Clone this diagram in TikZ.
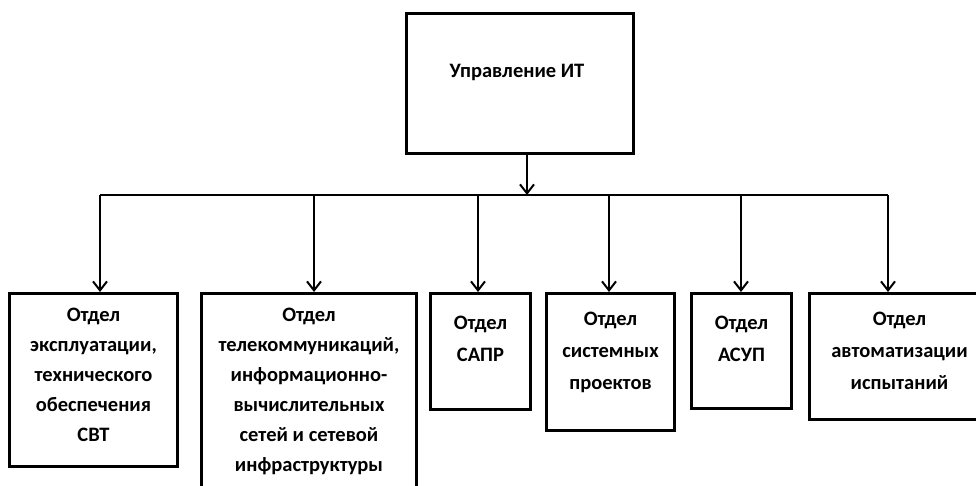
\documentclass[tikz,border=0pt]{standalone}
\usepackage{fontspec}
\setmainfont{Carlito}
\usetikzlibrary{arrows.meta}
\begin{document}
\begin{tikzpicture}[x=1pt,y=-1pt,
  box/.style={draw, line width=3pt, minimum width=#1, anchor=north west, inner sep=0pt},
  txt/.style={anchor=north, align=center, font=\fontsize{20.5}{32}\selectfont\bfseries, inner sep=0pt},
  tight/.style={font=\fontsize{20.5}{30}\selectfont\bfseries},
  conn/.style={line width=2pt},
  arr/.style={line width=2pt, -{Straight Barb[length=9pt,width=14pt,line width=2pt]}}]
\useasboundingbox (0,0) rectangle (976,486);
% boxes
\node[box=227pt, minimum height=140pt] (top) at (405,12) {};
\node[box=168pt, minimum height=173pt] (b1) at (8,292) {};
\node[box=215pt, minimum height=220pt] (b2) at (200,292) {};
\node[box=100pt, minimum height=116pt] (b3) at (429,292) {};
\node[box=128pt, minimum height=137pt] (b4) at (545,292) {};
\node[box=100pt, minimum height=115pt] (b5) at (690,292) {};
\node[box=180pt, minimum height=126pt] (b6) at (808,292) {};
% texts
\node[txt, anchor=center] (ttop) at (517,72) {Управление ИТ};
\node[txt, tight] (t1) at ([yshift=-16pt]b1.north) {Отдел\\эксплуатации,\\технического\\обеспечения\\СВТ};
\node[txt, tight] (t2) at ([yshift=-16pt]b2.north) {Отдел\\телекоммуникаций,\\информационно-\\вычислительных\\сетей и сетевой\\инфраструктуры};
\node[txt] (t3) at ([yshift=-24pt]b3.north) {Отдел\\САПР};
\node[txt] (t4) at ([yshift=-20pt]b4.north) {Отдел\\системных\\проектов};
\node[txt] (t5) at ([yshift=-24pt]b5.north) {Отдел\\АСУП};
\node[txt] (t6) at ([yshift=-20pt]b6.north) {Отдел\\автоматизации\\испытаний};
% connectors
\coordinate (bus) at (527,195);
\coordinate (d1) at (100,195);
\coordinate (d2) at (314,195);
\coordinate (d3) at (478,195);
\coordinate (d4) at (609,195);
\coordinate (d5) at (741,195);
\coordinate (d6) at (888,195);
\draw[arr] (top.south -| bus) -- (bus);
\draw[conn] (d1) -- (d6);
\draw[arr] (d1) -- (d1 |- b1.north);
\draw[arr] (d2) -- (d2 |- b2.north);
\draw[arr] (d3) -- (d3 |- b3.north);
\draw[arr] (d4) -- (d4 |- b4.north);
\draw[arr] (d5) -- (d5 |- b5.north);
\draw[arr] (d6) -- (d6 |- b6.north);
\end{tikzpicture}
\end{document}
